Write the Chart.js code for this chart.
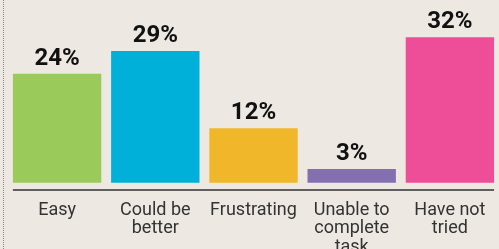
<!DOCTYPE html>
<html>
<head>
<meta charset="utf-8">
<script src="https://cdn.jsdelivr.net/npm/chart.js@4"></script>
<style>
  html, body { margin: 0; padding: 0; background: #ede8e2; }
  canvas { display: block; }
</style>
</head>
<body>
<canvas id="chart" width="499" height="249"></canvas>
<script>
// データ
const categories = ['Easy', ['Could be', 'better'], 'Frustrating', ['Unable to', 'complete', 'task'], ['Have not', 'tried']];
const percents = [24, 29, 12, 3, 32];
const barColors = ['#9aca5a', '#00b0d8', '#f1b72b', '#8470b1', '#ee4d98'];

// 背景と左の点線
const backgroundPlugin = {
    id: 'background',
    beforeDraw(chart) {
        const ctx = chart.ctx;
        ctx.save();
        ctx.fillStyle = '#ede8e2';
        ctx.fillRect(0, 0, chart.width, chart.height);
        ctx.strokeStyle = '#888';
        ctx.lineWidth = 1;
        ctx.setLineDash([1, 1]);
        ctx.beginPath();
        ctx.moveTo(3.5, 0);
        ctx.lineTo(3.5, chart.height);
        ctx.stroke();
        ctx.restore();
    }
};

// 軸線（最初の棒から最後の棒まで）と値ラベル
const barLabelPlugin = {
    id: 'barLabels',
    afterDatasetsDraw(chart) {
        const ctx = chart.ctx;
        const bars = chart.getDatasetMeta(0).data;
        const first = bars[0], last = bars[bars.length - 1];
        ctx.save();
        ctx.strokeStyle = '#333';
        ctx.lineWidth = 1.5;
        ctx.beginPath();
        ctx.moveTo(first.x - first.width / 2, chart.chartArea.bottom);
        ctx.lineTo(last.x + last.width / 2, chart.chartArea.bottom);
        ctx.stroke();

        ctx.fillStyle = '#111';
        ctx.font = 'bold 24px Roboto';
        ctx.textAlign = 'center';
        ctx.textBaseline = 'alphabetic';
        bars.forEach((bar, i) => {
            ctx.fillText(percents[i] + '%', bar.x, bar.y - 9);
        });
        ctx.restore();
    }
};

new Chart(document.getElementById('chart'), {
    type: 'bar',
    data: {
        labels: categories,
        datasets: [{
            data: percents,
            backgroundColor: barColors,
            base: 0,
            categoryPercentage: 0.9,
            barPercentage: 1
        }]
    },
    options: {
        responsive: false,
        animation: false,
        layout: { padding: { top: 1, left: 8, right: 0, bottom: 0 } },
        plugins: { legend: { display: false }, tooltip: { enabled: false } },
        scales: {
            x: {
                grid: { display: false, drawTicks: false },
                border: { display: false },
                ticks: {
                    color: '#333',
                    font: { family: 'Roboto', size: 18, lineHeight: 1.03 },
                    padding: 11,
                    maxRotation: 0,
                    autoSkip: false
                },
                afterFit(scale) { scale.height = 59; }
            },
            y: {
                display: false,
                min: -1.6,
                max: 40
            }
        }
    },
    plugins: [backgroundPlugin, barLabelPlugin]
});
</script>
</body>
</html>
